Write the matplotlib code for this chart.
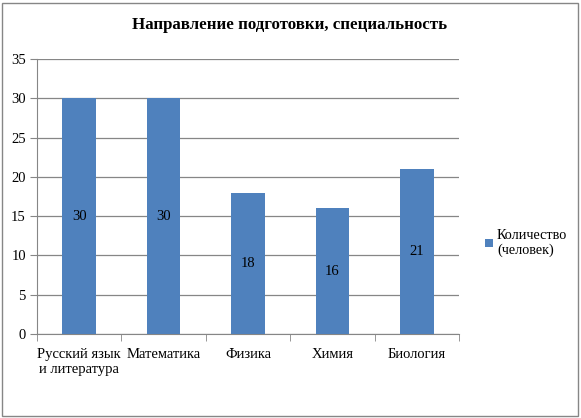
import numpy as np
import matplotlib.pyplot as plt
from matplotlib.patches import Rectangle

categories = ['Русский язык\nи литература', 'Математика', 'Физика', 'Химия', 'Биология']
values = [30, 30, 18, 16, 21]
series_name = 'Количество\n(человек)'
title = 'Направление подготовки, специальность'

plt.rcParams['font.family'] = ['Liberation Serif', 'DejaVu Serif']

fig = plt.figure(figsize=(5.81, 4.18), dpi=100)
ax = fig.add_axes([37 / 581, 1 - 334 / 418, 422 / 581, 275 / 418])

x = np.arange(len(values))
ax.bar(x, values, width=0.4, color='#4F81BD', zorder=3, label=series_name)

# data labels in the middle of the bars (Excel put the 30s a bit lower)
for xi, v in zip(x, values):
    ax.text(xi, min(v / 2, 18), str(v), ha='center', va='center', fontsize=10.5, zorder=4)

ax.set_xlim(-0.5, len(values) - 0.5)
ax.set_ylim(0, 35)
ax.set_yticks(range(0, 36, 5))
ax.set_xticks(x)
ax.set_xticklabels(categories, fontsize=10.5, linespacing=1.25)
ax.set_xticks(np.arange(-0.5, len(values), 1), minor=True)
ax.tick_params(axis='x', which='major', length=0, pad=10)
ax.tick_params(axis='x', which='minor', length=5, color='#868686')
ax.tick_params(axis='y', length=5, color='#868686', labelsize=10.5, pad=3)
ax.yaxis.grid(True, color='#868686', linewidth=0.9, zorder=0)
for s in ['top', 'right']:
    ax.spines[s].set_visible(False)
for s in ['left', 'bottom']:
    ax.spines[s].set_color('#868686')

fig.text(290 / 581, 1 - 25 / 418, title, ha='center', va='center',
         fontsize=12.2, fontweight='bold')

fig.legend(loc='upper left', bbox_to_anchor=(479 / 581, 1 - 223 / 418), frameon=False,
           fontsize=10.3, handlelength=0.55, handleheight=0.55, handletextpad=0.3,
           borderaxespad=0, labelspacing=0)

fig.patches.append(Rectangle((2 / 581, 2 / 418), 576 / 581, 413 / 418,
                             transform=fig.transFigure, fill=False,
                             edgecolor='#868686', linewidth=1))

fig.savefig('out.png', dpi=100)
